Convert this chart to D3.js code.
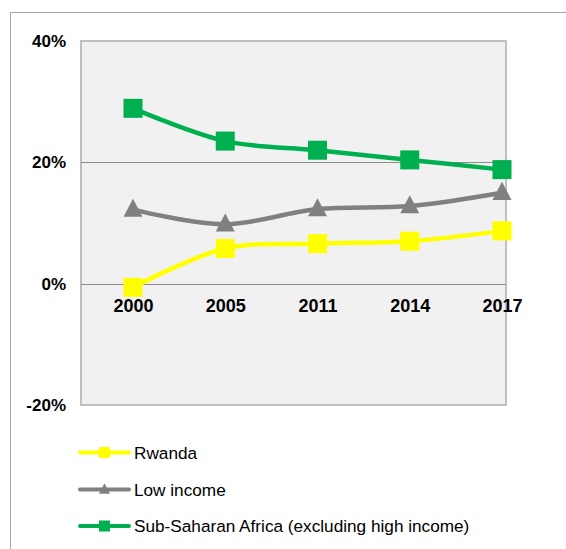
<!DOCTYPE html>
<html>
<head>
<meta charset="utf-8">
<script src="https://cdn.jsdelivr.net/npm/d3@7"></script>
<style>
  html, body { margin: 0; padding: 0; background: #fff; }
  svg { display: block; font-family: "Liberation Sans", Arial, sans-serif; }
</style>
</head>
<body>
<svg id="chart" width="566" height="549"></svg>
<script>
// Share of population, by year
const years = ["2000", "2005", "2011", "2014", "2017"];
const rwanda = [-0.6, 5.8, 6.6, 7.0, 8.7];
const lowIncome = [12.2, 9.8, 12.3, 12.8, 15.0];
const subSaharan = [28.9, 23.5, 22.0, 20.4, 18.8];
const yTicks = [-20, 0, 20, 40];

const series = [
  { name: "Rwanda", values: rwanda, color: "#FFFF00", marker: "square" },
  { name: "Low income", values: lowIncome, color: "#808080", marker: "triangle" },
  { name: "Sub-Saharan Africa (excluding high income)", values: subSaharan, color: "#00B050", marker: "square" }
];

const svg = d3.select("#chart");

// outer chart frame (extends past the visible area on right and bottom)
svg.append("rect")
  .attr("x", 10.5).attr("y", 12.5)
  .attr("width", 600).attr("height", 600)
  .attr("fill", "#fff").attr("stroke", "#A6A6A6").attr("stroke-width", 1);

const plot = { left: 81, right: 506, top: 41, bottom: 405 };

const x = d3.scalePoint().domain(years).range([133, 502]);
const y = d3.scaleLinear().domain([-20, 40]).range([plot.bottom, plot.top]);

// plot area
svg.append("rect")
  .attr("x", plot.left).attr("y", plot.top)
  .attr("width", plot.right - plot.left).attr("height", plot.bottom - plot.top)
  .attr("fill", "#F1F1F1").attr("stroke", "#BFBFBF").attr("stroke-width", 2);

// horizontal gridlines
svg.append("g").selectAll("line")
  .data(yTicks.filter(t => t > -20 && t < 40))
  .join("line")
  .attr("x1", plot.left).attr("x2", plot.right)
  .attr("y1", d => Math.round(y(d)) + 0.5).attr("y2", d => Math.round(y(d)) + 0.5)
  .attr("stroke", "#8C8C8C").attr("stroke-width", 1.2);

// y axis labels
const yAxis = d3.axisLeft(y).tickValues(yTicks).tickFormat(d => d + "%").tickSize(0).tickPadding(0);
const gy = svg.append("g").attr("transform", "translate(66,0)").call(yAxis);
gy.select(".domain").remove();
gy.selectAll("text")
  .attr("font-family", "'Liberation Sans', Arial, sans-serif")
  .attr("font-size", 17).attr("font-weight", "bold").attr("fill", "#000");

// x axis labels, drawn just below the 0% line
const xAxis = d3.axisBottom(x).tickSize(0).tickPadding(0);
const gx = svg.append("g").attr("transform", "translate(0," + (y(0) + 16) + ")").call(xAxis);
gx.select(".domain").remove();
gx.selectAll("text")
  .attr("font-family", "'Liberation Sans', Arial, sans-serif")
  .attr("font-size", 18).attr("font-weight", "bold").attr("fill", "#000");

const line = d3.line()
  .x((d, i) => x(years[i]))
  .y(d => y(d))
  .curve(d3.curveCatmullRom.alpha(0.5));

function drawMarker(g, type, cx, cy, size, color) {
  if (type === "square") {
    g.append("rect")
      .attr("x", cx - size / 2).attr("y", cy - size / 2)
      .attr("width", size).attr("height", size)
      .attr("fill", color);
  } else {
    const h = size * 0.95;
    g.append("path")
      .attr("d", `M${cx},${cy - h * 0.6}L${cx + size / 2},${cy + h * 0.4}L${cx - size / 2},${cy + h * 0.4}Z`)
      .attr("fill", color);
  }
}

series.forEach(s => {
  const g = svg.append("g");
  g.append("path")
    .datum(s.values)
    .attr("d", line)
    .attr("fill", "none")
    .attr("stroke", s.color)
    .attr("stroke-width", 4.5)
    .attr("stroke-linejoin", "round");
  s.values.forEach((v, i) => {
    drawMarker(g, s.marker, x(years[i]), y(v), 19, s.color);
  });
});

// legend
const legendY = [452.5, 489.5, 526];
series.forEach((s, i) => {
  const g = svg.append("g").attr("transform", `translate(0,${legendY[i]})`);
  g.append("line")
    .attr("x1", 80).attr("x2", 129).attr("y1", 0).attr("y2", 0)
    .attr("stroke", s.color).attr("stroke-width", 4).attr("stroke-linecap", "round");
  drawMarker(g, s.marker, 104.5, 0, 11, s.color);
  g.append("text")
    .attr("x", 134).attr("y", 0).attr("dy", "0.35em")
    .attr("font-size", 17.2).attr("fill", "#000")
    .text(s.name);
});
</script>
</body>
</html>
